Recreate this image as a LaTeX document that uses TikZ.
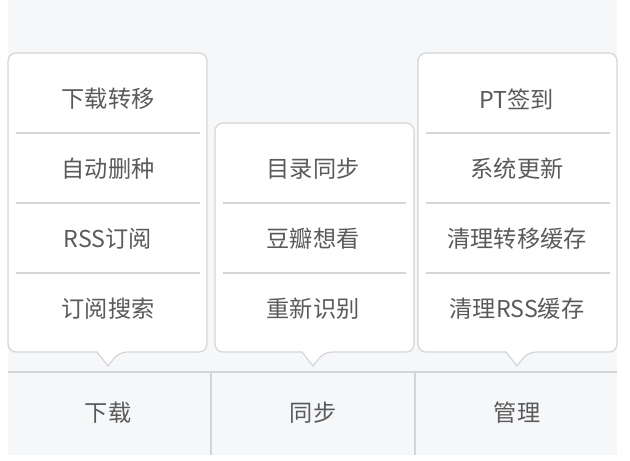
\documentclass[tikz,border=0pt]{standalone}
\usepackage{fontspec}
\setmainfont{Noto Sans CJK SC}
\definecolor{bgray}{HTML}{F6F7F9}
\definecolor{lgray}{HTML}{D4D5D8}
\definecolor{tgray}{HTML}{5A5A5A}
\tikzset{
  item/.style={text=tgray,font=\fontsize{17.5}{19}\selectfont},
  popbox/.style={draw=lgray,line width=0.9pt,fill=white,rounded corners=6pt},
}
\begin{document}
\begin{tikzpicture}[x=0.0265cm,y=-0.0265cm]
  \def\popup#1#2#3{
    % #1 left edge, #2 top edge, #3 centre
    \draw[popbox] (#1,#2) -- (#1+199,#2) -- (#1+199,352) -- (#3+11,352)
      [sharp corners] -- (#3,366) -- (#3-11,352) [rounded corners=6pt] -- (#1,352) -- cycle;
  }
  \useasboundingbox (0,0) rectangle (630,460);
  \fill[bgray] (8,0) rectangle (617,455);

  %%% bottom bar
  \draw[lgray,line width=0.9pt] (8,372) -- (617,372);
  \draw[lgray,line width=0.9pt] (211,372) -- (211,455) (415,372) -- (415,455);
  \node[item] (tabA) at (108,413) {下载};
  \node[item] (tabB) at (313,413) {同步};
  \node[item] (tabC) at (517,413) {管理};

  %%% popups
  \popup{8}{53}{108}
  \popup{215}{123}{313}
  \popup{418}{53}{517}

  %%% separators
  \foreach \y in {133,203,273} {
    \draw[lgray,line width=0.9pt] (16,\y) -- (200,\y);
    \draw[lgray,line width=0.9pt] (426,\y) -- (610,\y);
  }
  \foreach \y in {203,273}
    \draw[lgray,line width=0.9pt] (223,\y) -- (406,\y);

  %%% items
  \foreach \t [count=\i] in {下载转移,自动删种,RSS订阅,订阅搜索}
    \node[item] (a\i) at (108,29+70*\i) {\t};
  \foreach \t [count=\i from 2] in {目录同步,豆瓣想看,重新识别}
    \node[item] (b\i) at (313,29+70*\i) {\t};
  \foreach \t [count=\i] in {PT签到,系统更新,清理转移缓存,清理RSS缓存}
    \node[item] (c\i) at (517,29+70*\i) {\t};
\end{tikzpicture}
\end{document}
